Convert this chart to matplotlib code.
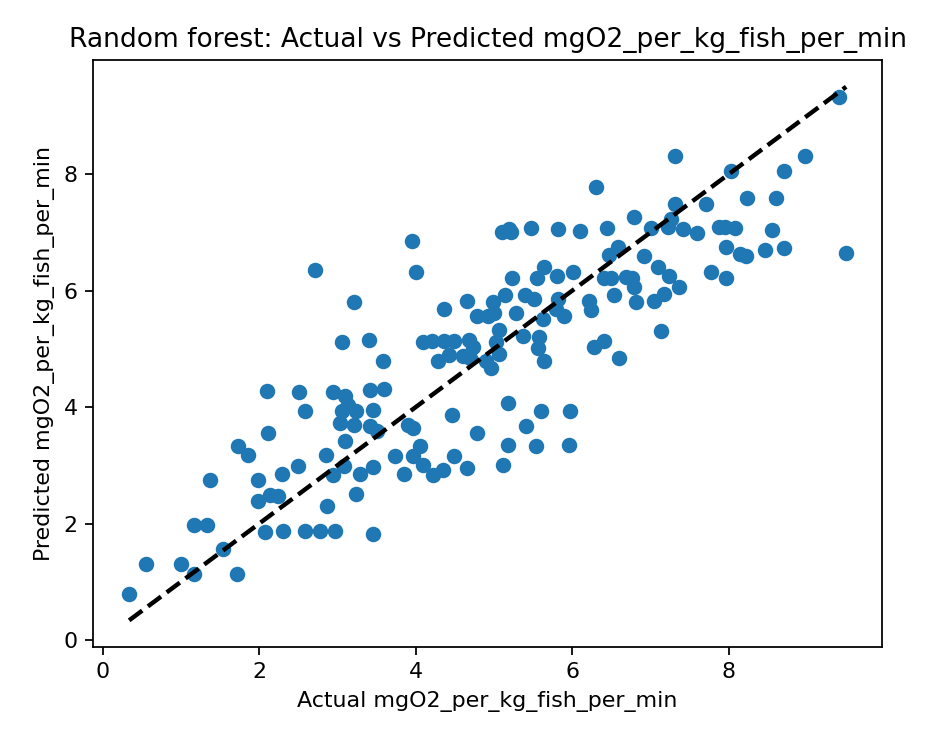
import matplotlib
matplotlib.use("Agg")
import matplotlib.pyplot as plt
import numpy as np

actual = [
    0.34, 0.55, 1.00, 1.17, 1.72, 1.54, 1.17, 1.33, 1.37, 1.73,
    1.86, 1.99, 2.08, 2.31, 2.12, 2.10, 2.51, 2.59, 1.99, 2.14,
    2.24, 2.29, 2.50, 2.59, 2.78, 2.97, 3.45, 2.87, 3.24, 2.94,
    3.29, 3.08, 3.46, 2.86, 3.10, 3.03, 3.21, 3.42, 3.51, 3.06,
    3.24, 3.45, 3.13, 2.95, 3.10, 3.42, 3.59, 3.58, 3.06, 3.40,
    3.21, 2.72, 4.00, 3.95, 3.74, 3.85, 3.90, 3.97, 3.97, 4.06,
    4.10, 4.22, 4.35, 4.49, 4.46, 4.65, 4.78, 5.12, 5.18, 5.18,
    5.41, 5.54, 5.60, 5.97, 5.96,
    4.10, 4.21, 4.36, 4.49, 4.68, 4.73, 4.28, 4.42, 4.60, 4.70,
    4.90, 5.03, 5.06, 5.06, 5.37, 5.58, 5.56, 5.64, 4.36, 4.65,
    4.79, 4.92, 4.99, 5.00, 5.14, 5.23, 5.28, 5.40, 5.51, 5.55,
    5.64, 5.81, 6.01, 5.63, 5.82, 5.90, 5.79, 4.96,
    5.10, 5.19, 5.22, 5.47, 5.82, 6.10, 6.44, 6.79, 7.01, 7.23,
    7.31, 7.26, 7.42, 7.59, 6.31, 7.31, 6.59, 6.47, 6.92, 7.10,
    7.24, 7.37, 6.40, 6.50, 6.69, 6.76, 6.79, 7.17, 7.05, 6.82,
    6.54, 6.21, 6.24, 6.28, 6.40, 6.60, 7.14,
    9.41, 8.97, 8.70, 8.03, 7.71, 8.23, 8.60, 7.87, 7.95, 8.08,
    8.55, 7.97, 8.14, 8.22, 8.46, 8.70, 9.50, 7.77, 7.97,
]

predicted = [
    0.80, 1.30, 1.30, 1.13, 1.13, 1.57, 1.98, 1.98, 2.75, 3.33,
    3.18, 2.75, 1.85, 1.88, 3.56, 4.27, 4.26, 3.93, 2.39, 2.50,
    2.48, 2.85, 2.99, 1.88, 1.88, 1.88, 1.83, 2.31, 2.51, 2.84,
    2.85, 2.99, 2.97, 3.18, 3.42, 3.73, 3.69, 3.67, 3.59, 3.93,
    3.93, 3.95, 4.03, 4.26, 4.19, 4.29, 4.31, 4.80, 5.11, 5.15,
    5.81, 6.36, 6.32, 6.85, 3.16, 2.85, 3.69, 3.64, 3.16, 3.33,
    3.01, 2.84, 2.92, 3.16, 3.86, 2.96, 3.56, 3.01, 3.35, 4.07,
    3.67, 3.33, 3.93, 3.93, 3.35,
    5.11, 5.13, 5.13, 5.13, 5.16, 5.04, 4.80, 4.90, 4.87, 4.84,
    4.79, 5.11, 5.32, 4.92, 5.23, 5.21, 5.01, 4.80, 5.69, 5.83,
    5.56, 5.56, 5.81, 5.61, 5.93, 6.21, 5.62, 5.93, 5.86, 6.21,
    6.41, 6.26, 6.32, 5.52, 5.86, 5.56, 5.69, 4.67,
    7.01, 7.06, 7.01, 7.08, 7.06, 7.02, 7.08, 7.26, 7.08, 7.09,
    7.49, 7.23, 7.06, 6.99, 7.78, 8.31, 6.75, 6.62, 6.60, 6.41,
    6.26, 6.07, 6.21, 6.21, 6.24, 6.21, 6.07, 5.95, 5.83, 5.81,
    5.93, 5.83, 5.66, 5.04, 5.13, 4.85, 5.30,
    9.33, 8.31, 8.05, 8.05, 7.49, 7.59, 7.59, 7.09, 7.09, 7.08,
    7.04, 6.75, 6.63, 6.60, 6.70, 6.73, 6.65, 6.32, 6.21,
]

title = "Random forest: Actual vs Predicted mgO2_per_kg_fish_per_min"
xlabel = "Actual mgO2_per_kg_fish_per_min"
ylabel = "Predicted mgO2_per_kg_fish_per_min"

DPI = 159
fig = plt.figure(figsize=(948 / DPI, 742 / DPI), dpi=DPI)
ax = fig.add_axes([0.0984, 0.128, 0.832, 0.791])
ax.scatter(actual, predicted)
lo, hi = min(actual), max(actual)
ax.plot([lo, hi], [lo, hi], 'k--', lw=2)
ax.set_title(title)
ax.set_xlabel(xlabel)
ax.set_ylabel(ylabel)
fig.savefig("out.png", dpi=DPI)
